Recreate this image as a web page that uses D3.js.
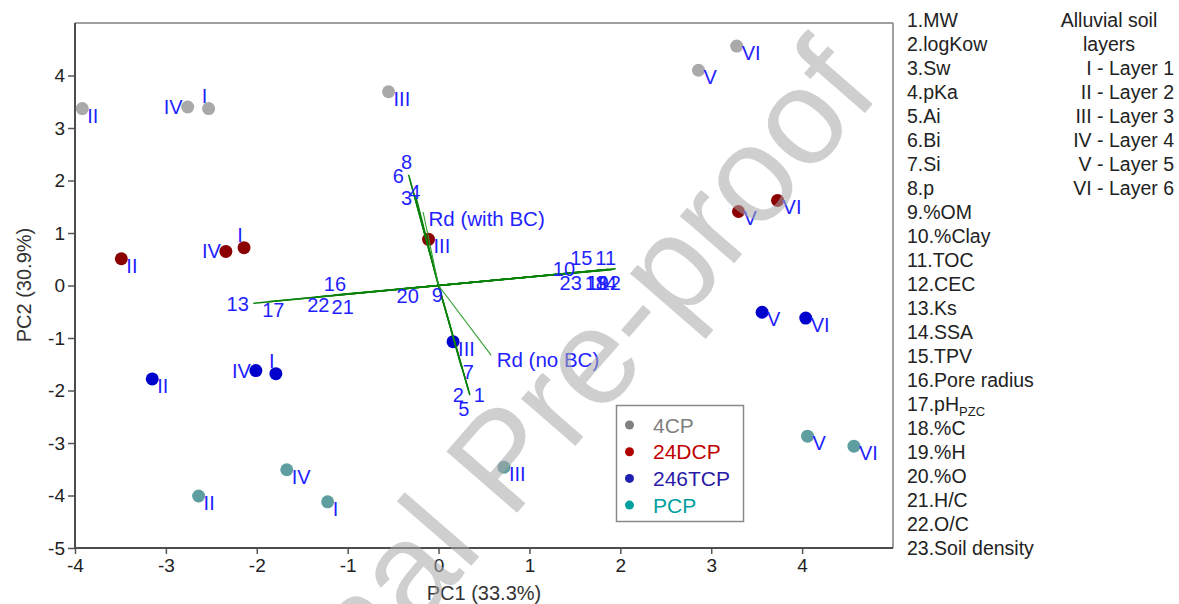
<!DOCTYPE html>
<html><head><meta charset="utf-8">
<script src="https://cdn.jsdelivr.net/npm/d3@7"></script>
<style>
body{margin:0;background:#fff;}
text{font-family:"Liberation Sans",Arial,sans-serif;}
</style></head>
<body><svg id="c" width="1179" height="604"></svg>
<script>
// ---------- data ----------
const chemicals = ["4CP", "24DCP", "246TCP", "PCP"];
const layers = ["I", "II", "III", "IV", "V", "VI"];
// PC scores, order of layers I..VI
const pc1_4CP    = [-2.53, -3.92, -0.55, -2.76, 2.86, 3.28];
const pc2_4CP    = [ 3.37,  3.37,  3.69,  3.40, 4.10, 4.56];
const pc1_24DCP  = [-2.14, -3.49, -0.11, -2.34, 3.30, 3.73];
const pc2_24DCP  = [ 0.72,  0.51,  0.88,  0.65, 1.41, 1.62];
const pc1_246TCP = [-1.79, -3.15,  0.16, -2.01, 3.56, 4.04];
const pc2_246TCP = [-1.68, -1.78, -1.07, -1.62, -0.51, -0.62];
const pc1_PCP    = [-1.22, -2.64,  0.72, -1.67, 4.06, 4.57];
const pc2_PCP    = [-4.12, -4.01, -3.46, -3.51, -2.87, -3.06];

// variable loadings (biplot vectors) and their label positions
const varNames = ["MW","logKow","Sw","pKa","Ai","Bi","Si","p","%OM","%Clay","TOC","CEC","Ks","SSA","TPV",
  "Pore radius","pH_PZC","%C","%H","%O","H/C","O/C","Soil density"];
const loadPC1 = [0.345, 0.33, -0.27, -0.25, 0.34, -0.32, 0.25, -0.33, 0.01, 1.45, 1.95, 1.93, -2.04, 1.90, 1.78,
  -1.15, -1.88, 1.84, 1.87, -0.40, -1.10, -1.35, 1.60];
const loadPC2 = [-2.09, -2.00, 1.75, 1.70, -2.06, 2.05, -1.55, 2.11, -0.06, 0.24, 0.32, 0.31, -0.34, 0.30, 0.29,
  -0.18, -0.31, 0.30, 0.31, -0.06, -0.18, -0.22, 0.26];
const labPC1 = [0.448, 0.217, -0.351, -0.260, 0.279, -0.443, 0.327, -0.351, -0.014, 1.379, 1.839, 1.885, -2.210,
  1.841, 1.570, -1.140, -1.818, 1.731, 1.753, -0.340, -1.055, -1.323, 1.454];
const labPC2 = [-2.090, -2.090, 1.669, 1.783, -2.343, 2.088, -1.646, 2.355, -0.185, 0.311, 0.530, 0.044, -0.343,
  0.044, 0.530, 0.038, -0.457, 0.044, 0.044, -0.204, -0.408, -0.362, 0.053];

// supplementary response vectors
const rdNames = ["Rd (with BC)", "Rd (no BC)"];
const rdPC1 = [-0.17, 0.58];
const rdPC2 = [1.40, -1.33];
const rdLabPC1 = [-0.11, 0.64];
const rdLabPC2 = [1.13, -1.56];

const xTicks = [-4, -3, -2, -1, 0, 1, 2, 3, 4];
const yTicks = [-5, -4, -3, -2, -1, 0, 1, 2, 3, 4];
const xTitle = "PC1 (33.3%)";
const yTitle = "PC2 (30.9%)";
const layerLegendTitle = ["Alluvial soil", "layers"];
const layerLegend = ["I - Layer 1", "II - Layer 2", "III - Layer 3", "IV - Layer 4", "V - Layer 5", "VI - Layer 6"];
const watermark = "Journal Pre-proof";

// ---------- styles ----------
const pointColor = {"4CP": "#a9a9a9", "24DCP": "#8b0000", "246TCP": "#0000cd", "PCP": "#5f9ea0"};
const legendDot  = {"4CP": "#808080", "24DCP": "#b00000", "246TCP": "#2020b0", "PCP": "#00a0a0"};
const legendText = {"4CP": "#808080", "24DCP": "#c00000", "246TCP": "#2a1aa8", "PCP": "#00a0a0"};
const labelBlue = "#1f1fff";
// label placement per layer label
const labelPlace = {
  "4CP|I": "top", "24DCP|I": "top", "246TCP|I": "top",
  "4CP|IV": "left", "24DCP|IV": "left", "246TCP|IV": "left"
};

const scoreTable = {
  "4CP": [pc1_4CP, pc2_4CP], "24DCP": [pc1_24DCP, pc2_24DCP],
  "246TCP": [pc1_246TCP, pc2_246TCP], "PCP": [pc1_PCP, pc2_PCP]
};
const points = [];
chemicals.forEach(c => layers.forEach((l, i) => points.push({chem: c, layer: l, x: scoreTable[c][0][i], y: scoreTable[c][1][i]})));

const svg = d3.select("#c");
const L = 75, R = 893, T = 23, B = 548;
const x = d3.scaleLinear().domain([-4, 5]).range([L, R]);
const y = d3.scaleLinear().domain([-5, 5]).range([B, T]);

// axes
const gx = svg.append("g").attr("transform", `translate(0,${B})`)
  .call(d3.axisBottom(x).tickValues(xTicks).tickSize(6).tickPadding(5).tickFormat(d => String(d)));
const gy = svg.append("g").attr("transform", `translate(${L},0)`)
  .call(d3.axisLeft(y).tickValues(yTicks).tickSize(7).tickPadding(3).tickFormat(d => String(d)));
[gx, gy].forEach(g => {
  g.select(".domain").remove();
  g.selectAll(".tick line").attr("stroke", "#555").attr("stroke-width", 1.5);
  g.selectAll(".tick text").attr("font-size", 19).attr("fill", "#222")
    .attr("font-family", '"Liberation Sans",Arial,sans-serif');
});
// frame
svg.append("line").attr("x1", L).attr("x2", R).attr("y1", T).attr("y2", T).attr("stroke", "#808080").attr("stroke-width", 1.5);
svg.append("line").attr("x1", R).attr("x2", R).attr("y1", T).attr("y2", B).attr("stroke", "#808080").attr("stroke-width", 1.5);
svg.append("line").attr("x1", L).attr("x2", L).attr("y1", T).attr("y2", B + 1).attr("stroke", "#4d4d4d").attr("stroke-width", 2);
svg.append("line").attr("x1", L - 1).attr("x2", R).attr("y1", B).attr("y2", B).attr("stroke", "#4d4d4d").attr("stroke-width", 2);

// axis titles
svg.append("text").attr("x", (L + R) / 2).attr("y", 600).attr("text-anchor", "middle")
  .attr("font-size", 20).attr("fill", "#333").text(xTitle);
svg.append("text").attr("transform", `translate(31,${285}) rotate(-90)`).attr("text-anchor", "middle")
  .attr("font-size", 20).attr("fill", "#333").text(yTitle);

// points
svg.append("g").selectAll("circle").data(points).join("circle")
  .attr("cx", d => x(d.x)).attr("cy", d => y(d.y)).attr("r", 6.5)
  .attr("fill", d => pointColor[d.chem]);

// biplot vectors
const vg = svg.append("g");
varNames.forEach((n, i) => {
  vg.append("line").attr("x1", x(0)).attr("y1", y(0)).attr("x2", x(loadPC1[i])).attr("y2", y(loadPC2[i]))
    .attr("stroke", "#0a820a").attr("stroke-width", 1.4);
});
rdNames.forEach((n, i) => {
  vg.append("line").attr("x1", x(0)).attr("y1", y(0)).attr("x2", x(rdPC1[i])).attr("y2", y(rdPC2[i]))
    .attr("stroke", "#2f9e2f").attr("stroke-width", 1.1);
});
varNames.forEach((n, i) => {
  vg.append("text").attr("x", x(labPC1[i])).attr("y", y(labPC2[i])).attr("dy", "0.36em")
    .attr("text-anchor", "middle").attr("font-size", 20).attr("fill", labelBlue).text(String(i + 1));
});
rdNames.forEach((n, i) => {
  vg.append("text").attr("x", x(rdLabPC1[i])).attr("y", y(rdLabPC2[i]))
    .attr("font-size", 20.5).attr("fill", labelBlue).text(n);
});

// point labels
svg.append("g").selectAll("text").data(points).join("text")
  .each(function(d) {
    const p = labelPlace[d.chem + "|" + d.layer] || "br";
    const s = d3.select(this);
    const px = x(d.x), py = y(d.y);
    if (p === "top") s.attr("x", px - 4).attr("y", py - 6).attr("text-anchor", "middle");
    else if (p === "left") s.attr("x", px - 5).attr("y", py + 7).attr("text-anchor", "end");
    else s.attr("x", px + 5).attr("y", py + 14).attr("text-anchor", "start");
  })
  .attr("font-size", 20).attr("fill", labelBlue).text(d => d.layer);

// legend
const lg = svg.append("g");
lg.append("rect").attr("x", 616.5).attr("y", 405.5).attr("width", 127).attr("height", 116)
  .attr("fill", "#fff").attr("stroke", "#8a8a8a").attr("stroke-width", 1.5);
chemicals.forEach((c, i) => {
  const cy = 425 + i * 26.7;
  lg.append("circle").attr("cx", 629.5).attr("cy", cy).attr("r", 4.5).attr("fill", legendDot[c]);
  lg.append("text").attr("x", 653).attr("y", cy + 7.5).attr("font-size", 21).attr("fill", legendText[c]).text(c);
});

// right-hand variable list
const rg = svg.append("g");
varNames.forEach((n, i) => {
  const t = rg.append("text").attr("x", 907).attr("y", 26.7 + i * 24.03).attr("font-size", 19.5).attr("fill", "#222");
  if (n === "pH_PZC") {
    t.append("tspan").text(`${i + 1}.pH`);
    t.append("tspan").attr("font-size", 13).attr("dy", 5).text("PZC");
  } else t.text(`${i + 1}.${n}`);
});
layerLegendTitle.forEach((s, i) => {
  rg.append("text").attr("x", 1109).attr("y", 26.7 + i * 24.03).attr("text-anchor", "middle")
    .attr("font-size", 19.5).attr("fill", "#222").text(s);
});
layerLegend.forEach((s, i) => {
  rg.append("text").attr("x", 1174).attr("y", 26.7 + (i + 2) * 24.03).attr("text-anchor", "end")
    .attr("font-size", 19.5).attr("fill", "#222").text(s);
});

// watermark
svg.append("text").attr("transform", "translate(537,490) rotate(-49)").attr("text-anchor", "middle")
  .attr("font-size", 136).attr("fill", "#a8a8a8").attr("fill-opacity", 0.55).text(watermark);
</script>
</body></html>
